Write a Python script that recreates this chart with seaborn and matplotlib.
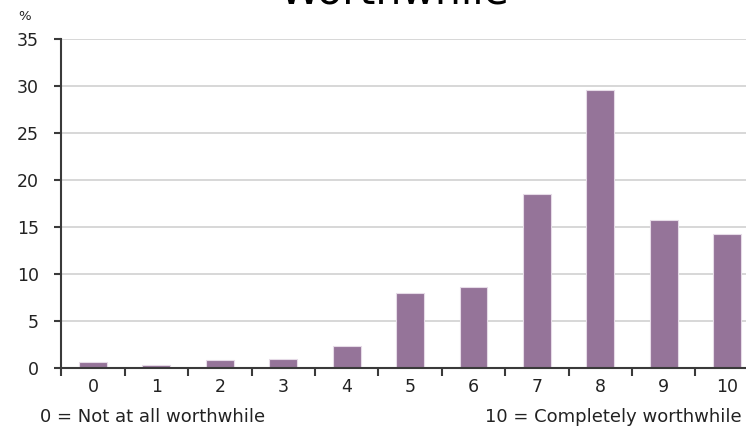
import matplotlib
matplotlib.use("Agg")
import matplotlib.pyplot as plt
import seaborn as sns
import pandas as pd
import numpy as np

# Survey responses: how worthwhile people feel the things they do are
scores = ["0", "1", "2", "3", "4", "5", "6", "7", "8", "9", "10"]
percent = [0.6, 0.3, 0.8, 1.0, 2.3, 8.0, 8.6, 18.5, 29.6, 15.7, 14.3]
y_ticks = [0, 5, 10, 15, 20, 25, 30, 35]

title_text = "Worthwhile"
unit_label = "%"
low_note = "0 = Not at all worthwhile"
high_note = "10 = Completely worthwhile"

bar_color = "#957499"
text_color = "#222222"
grid_color = "#d4d4d4"
spine_color = "#3a3a3a"

sns.set_theme(style="white")
plt.rcParams["font.family"] = ["DejaVu Sans"]

df = pd.DataFrame({"score": scores, "percent": percent})

fig = plt.figure(figsize=(7.46, 4.28), dpi=100)
ax = fig.add_axes([0.0822, 0.1402, 0.935, 0.7687])

sns.barplot(data=df, x="score", y="percent", order=scores, color=bar_color,
            saturation=1, width=0.44, edgecolor="#e6dbe7", linewidth=0.8,
            ax=ax, zorder=3)

ax.set_xlim(-0.5, len(scores) - 0.5)
ax.set_ylim(0, 35)
ax.set_yticks(y_ticks)
ax.set_yticklabels([str(v) for v in y_ticks], fontsize=12.5, color=text_color)
ax.set_xticks(range(len(scores)))
ax.set_xticklabels(scores, fontsize=12.5, color=text_color)
ax.set_xlabel("")
ax.set_ylabel("")

# category separators as ticks on the x axis
ax.set_xticks(np.arange(-0.5, len(scores) - 0.4, 1.0), minor=True)
ax.tick_params(axis="x", which="major", length=0, pad=7)
ax.tick_params(axis="x", which="minor", length=6, width=1.5,
               color=spine_color, direction="out", bottom=True)
ax.tick_params(axis="y", which="major", length=5, width=1.5,
               color=spine_color, direction="out", left=True, pad=11)

ax.yaxis.grid(True, color=grid_color, linewidth=1.3, zorder=0)
ax.xaxis.grid(False)
ax.set_axisbelow(True)

sns.despine(ax=ax, top=True, right=True)
for side in ("left", "bottom"):
    ax.spines[side].set_color(spine_color)
    ax.spines[side].set_linewidth(1.5)
    ax.spines[side].set_zorder(4)

fig.text(395 / 746, 1 - 4 / 428, title_text, ha="center", va="baseline",
         fontsize=29.5, color="black")
fig.text(25 / 746, 1 - 16 / 428, unit_label, ha="center", va="center",
         fontsize=9.5, color=text_color)
fig.text(40 / 746, 1 - 417 / 428, low_note, ha="left", va="center",
         fontsize=13, color=text_color)
fig.text(742 / 746, 1 - 417 / 428, high_note, ha="right", va="center",
         fontsize=13, color=text_color)

fig.savefig("out.png", dpi=100)
